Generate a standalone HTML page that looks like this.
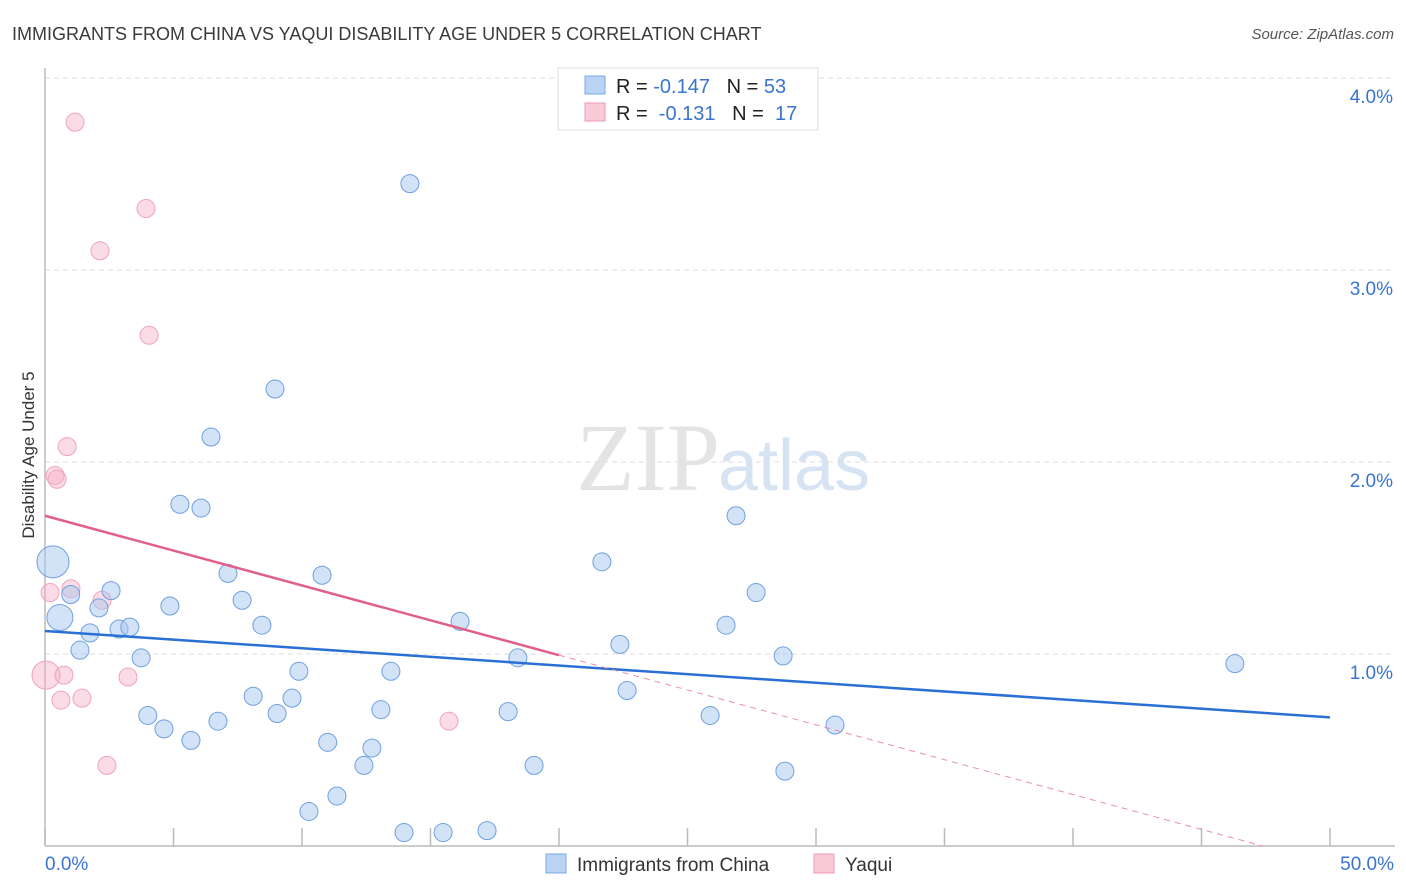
<!DOCTYPE html>
<html><head><meta charset="utf-8"><style>
body{margin:0;background:#fff;font-family:"Liberation Sans",sans-serif;}
svg{display:block}
</style></head><body>
<svg id="chart" width="1406" height="892" xmlns="http://www.w3.org/2000/svg">
<text x="12" y="40" font-size="18" fill="#3a3a3a">IMMIGRANTS FROM CHINA VS YAQUI DISABILITY AGE UNDER 5 CORRELATION CHART</text>
<text x="1394" y="39" font-size="15" fill="#555" text-anchor="end" font-style="italic">Source: ZipAtlas.com</text>
<g id="grid"></g>
<g id="axes"></g>
<text x="720" y="490" font-size="96" fill="#e4e4e4" text-anchor="end" font-family="Liberation Serif,serif">ZIP</text>
<text x="718" y="490" font-size="72" fill="#d5e3f3">atlas</text>
<g id="pts"></g>
<g id="lines"></g>
<text transform="translate(34,455) rotate(-90)" font-size="17" fill="#333" text-anchor="middle">Disability Age Under 5</text>
<g>
<rect x="558" y="68" width="260" height="62" fill="#fff" stroke="#ddd"/>
<rect x="585" y="76" width="20" height="18" fill="#b8d3f4" stroke="#7aaae6"/>
<rect x="585" y="103" width="20" height="18" fill="#f9cbd8" stroke="#ee9ab3"/>
<text x="616" y="93" font-size="20" fill="#222">R = <tspan fill="#3a74d0">-0.147</tspan>&#160;&#160;&#160;N = <tspan fill="#3a74d0">53</tspan></text>
<text x="616" y="120" font-size="20" fill="#222">R = &#160;<tspan fill="#3a74d0">-0.131</tspan>&#160;&#160;&#160;N = &#160;<tspan fill="#3a74d0">17</tspan></text>
</g>
<g>
<rect x="546" y="854" width="20" height="19" fill="#b8d3f4" stroke="#7aaae6"/>
<text x="577" y="871" font-size="19" fill="#333">Immigrants from China</text>
<rect x="814" y="854" width="20" height="19" fill="#f9cbd8" stroke="#ee9ab3"/>
<text x="845" y="871" font-size="19" fill="#333">Yaqui</text>
</g>
</svg>
<script>
const yTicks=[1,2,3,4];
const yTickLabels=["1.0%","2.0%","3.0%","4.0%"];
const xTickLabels=["0.0%","50.0%"];
const chinaX=[0.31,0.58,1.0,1.36,1.75,2.1,2.57,2.88,3.3,3.74,4.0,4.63,4.86,5.25,5.68,6.07,6.46,6.73,7.12,7.67,8.1,8.44,8.95,9.03,9.61,9.88,10.27,10.78,11.0,11.36,12.41,12.72,13.07,13.46,13.97,14.2,15.49,16.15,17.2,18.02,18.4,19.03,21.67,22.37,22.65,25.88,26.5,26.89,27.67,28.72,28.79,30.74,46.3];
const chinaY=[1.48,1.19,1.31,1.02,1.11,1.24,1.33,1.13,1.14,0.98,0.68,0.61,1.25,1.78,0.55,1.76,2.13,0.65,1.42,1.28,0.78,1.15,2.38,0.69,0.77,0.91,0.18,1.41,0.54,0.26,0.42,0.51,0.71,0.91,0.07,3.45,0.07,1.17,0.08,0.70,0.98,0.42,1.48,1.05,0.81,0.68,1.15,1.72,1.32,0.99,0.39,0.63,0.95];
const chinaR=[16,13,9,9,9,9,9,9,9,9,9,9,9,9,9,9,9,9,9,9,9,9,9,9,9,9,9,9,9,9,9,9,9,9,9,9,9,9,9,9,9,9,9,9,9,9,9,9,9,9,9,9,9];
const yaquiX=[0.04,0.2,0.39,0.47,0.62,0.74,0.86,1.01,1.17,1.44,2.14,2.22,2.41,3.23,3.93,4.05,15.72];
const yaquiY=[0.89,1.32,1.93,1.91,0.76,0.89,2.08,1.34,3.77,0.77,3.10,1.28,0.42,0.88,3.32,2.66,0.65];
const yaquiR=[14,9,9,9,9,9,9,9,9,9,9,9,9,9,9,9,9];
const chinaTrend=[1.12,0.67];
const yaquiTrend=[1.72,-0.0363];
const NS="http://www.w3.org/2000/svg";
const sx=v=>45+v*25.7, sy=v=>846-v*192;
function mk(tag,at,parent){const e=document.createElementNS(NS,tag);for(const k in at)e.setAttribute(k,at[k]);document.getElementById(parent).appendChild(e);return e;}
yTicks.forEach((t,i)=>{
 const l=mk('line',{x1:45,x2:1395,y1:sy(t),y2:sy(t),stroke:'#ddd','stroke-dasharray':'5,4'},'grid');
 
 
 const tx=mk('text',{x:1393,y:sy(t)+25,'font-size':19,fill:'#3a74d0','text-anchor':'end'},'grid');
 tx.textContent=yTickLabels[i];
 
 
});
let a=mk('line',{x1:45,x2:45,y1:68,y2:846,stroke:'#bbb','stroke-width':1.5},'axes');


a=mk('line',{x1:45,x2:1395,y1:846,y2:846,stroke:'#bbb','stroke-width':1.5},'axes');


for(let i=0;i<=10;i++){const t=mk('line',{x1:sx(i*5),x2:sx(i*5),y1:828,y2:846,stroke:'#bbb','stroke-width':1.5},'axes');
 
 }
[[0,'start',45],[50,'end',1394]].forEach((d,i)=>{const t=mk('text',{x:d[2],y:870,'font-size':19,fill:'#3a74d0','text-anchor':d[1]},'axes');t.textContent=xTickLabels[i];
 
 });
yaquiX.forEach((x,i)=>{const c=mk('circle',{cx:sx(x),cy:sy(yaquiY[i]),r:yaquiR[i],fill:'rgba(246,176,198,0.45)',stroke:'#f0a3bb','stroke-width':1},'pts');
 
 });
chinaX.forEach((x,i)=>{const c=mk('circle',{cx:sx(x),cy:sy(chinaY[i]),r:chinaR[i],fill:'rgba(168,200,240,0.5)',stroke:'#6fa0e0','stroke-width':1},'pts');
 
 });
let l=mk('line',{x1:sx(0),y1:sy(chinaTrend[0]),x2:sx(50),y2:sy(chinaTrend[1]),stroke:'#2a6fd6','stroke-width':2.5},'lines');


const yq=x=>yaquiTrend[0]+yaquiTrend[1]*x, xEnd=20, xZero=-yaquiTrend[0]/yaquiTrend[1];
l=mk('line',{x1:sx(0),y1:sy(yq(0)),x2:sx(xEnd),y2:sy(yq(xEnd)),stroke:'#e0608a','stroke-width':2.5},'lines');


l=mk('line',{x1:sx(xEnd),y1:sy(yq(xEnd)),x2:sx(xZero),y2:sy(0),stroke:'#e890aa','stroke-width':1,'stroke-dasharray':'6,5'},'lines');


</script>
</body></html>
